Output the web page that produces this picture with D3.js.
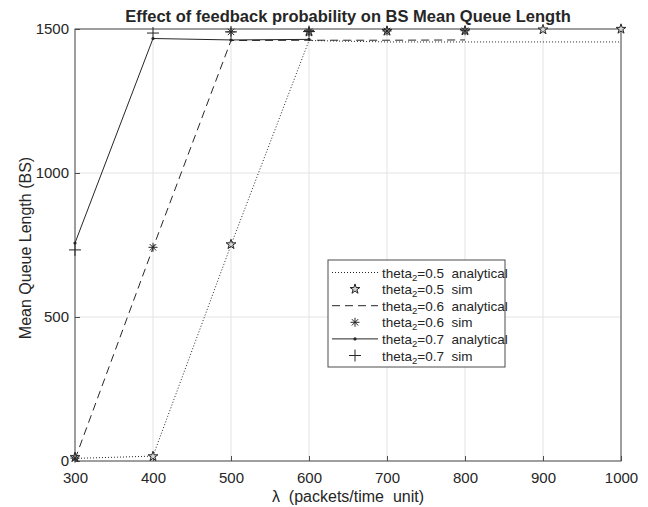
<!DOCTYPE html>
<html>
<head>
<meta charset="utf-8">
<script src="https://cdn.jsdelivr.net/npm/d3@7"></script>
<style>
  body { margin: 0; background: #fff; }
  text { font-family: "Liberation Sans", Arial, Helvetica, sans-serif; fill: #262626; white-space: pre; }
</style>
</head>
<body>
<svg id="chart" width="648" height="507"></svg>
<script>
// x values (lambda, packets/time unit)
const xTicks = [300, 400, 500, 600, 700, 800, 900, 1000];
const yTicks = [0, 500, 1000, 1500];

// theta2 = 0.5
const lambda05 = [300, 400, 500, 600, 700, 800, 900, 1000];
const analytical05 = [9, 17, 750, 1460, 1455, 1455, 1455, 1455];
const sim05 = [13, 16, 752, 1490, 1493, 1494, 1498, 1500];

// theta2 = 0.6
const lambda06 = [300, 400, 500, 600, 700, 800];
const analytical06 = [6, 740, 1460, 1461, 1461, 1462];
const sim06 = [10, 742, 1490, 1491, 1493, 1494];

// theta2 = 0.7
const lambda07 = [300, 400, 500, 600];
const analytical07 = [757, 1467, 1462, 1464];
const sim07 = [733, 1486, 1490, 1491];

const legendLabels = [
    ["0.5", "analytical"], ["0.5", "sim"],
    ["0.6", "analytical"], ["0.6", "sim"],
    ["0.7", "analytical"], ["0.7", "sim"]
];

const svg = d3.select("#chart");
svg.append("rect").attr("width", 648).attr("height", 507).attr("fill", "#fff");

const margin = { left: 75, right: 27, top: 29, bottom: 46 };
const width = 648 - margin.left - margin.right;
const height = 507 - margin.top - margin.bottom;

const x = d3.scaleLinear().domain([300, 1000]).range([0, width]);
const y = d3.scaleLinear().domain([0, 1500]).range([height, 0]);

const g = svg.append("g").attr("transform", `translate(${margin.left},${margin.top})`);

// gridlines
g.append("g")
    .selectAll("line")
    .data(xTicks)
    .enter().append("line")
    .attr("x1", d => x(d)).attr("x2", d => x(d))
    .attr("y1", 0).attr("y2", height)
    .attr("stroke", "#e3e3e3").attr("stroke-width", 1);
g.append("g")
    .selectAll("line")
    .data(yTicks)
    .enter().append("line")
    .attr("x1", 0).attr("x2", width)
    .attr("y1", d => y(d)).attr("y2", d => y(d))
    .attr("stroke", "#e3e3e3").attr("stroke-width", 1);

// axes (ticks inward, MATLAB style)
const xAxis = g.append("g")
    .attr("transform", `translate(0,${height})`)
    .call(d3.axisBottom(x).tickValues(xTicks).tickFormat(d3.format("d"))
        .tickSize(-5).tickPadding(11).tickSizeOuter(0));
const yAxis = g.append("g")
    .call(d3.axisLeft(y).tickValues(yTicks).tickFormat(d3.format("d"))
        .tickSize(-5).tickPadding(6).tickSizeOuter(0));

[xAxis, yAxis].forEach(ax => {
    ax.select(".domain").remove();
    ax.selectAll("line").attr("stroke", "#4d4d4d");
    ax.selectAll("text")
        .style("font-size", "15px")
        .attr("fill", "#262626");
});

// box
g.append("rect")
    .attr("x", 0).attr("y", 0)
    .attr("width", width).attr("height", height)
    .attr("fill", "none")
    .attr("stroke", "#4d4d4d")
    .attr("stroke-width", 1);

// series lines
const lineColor = "#262626";
const line = d3.line().x(d => x(d[0])).y(d => y(d[1]));

function drawLine(xs, ys, dash) {
    g.append("path")
        .datum(xs.map((v, i) => [v, ys[i]]))
        .attr("d", line)
        .attr("fill", "none")
        .attr("stroke", lineColor)
        .attr("stroke-width", 1)
        .attr("stroke-dasharray", dash);
}

drawLine(lambda05, analytical05, "1 2");
drawLine(lambda06, analytical06, "8 5");
drawLine(lambda07, analytical07, null);

// marker paths
const starPath = d3.symbol().type(d3.symbolStar).size(30)();
const asteriskPath = "M0,-4.5V4.5M-4.5,0H4.5M-3.2,-3.2L3.2,3.2M-3.2,3.2L3.2,-3.2";
const plusPath = "M0,-6V6M-6,0H6";

function drawMarkers(xs, ys, path, fill) {
    g.append("g")
        .selectAll("path")
        .data(xs.map((v, i) => [v, ys[i]]))
        .enter().append("path")
        .attr("transform", d => `translate(${x(d[0])},${y(d[1])})`)
        .attr("d", path)
        .attr("fill", fill)
        .attr("stroke", lineColor)
        .attr("stroke-width", 1);
}

// dot markers on theta2=0.7 analytical
g.append("g")
    .selectAll("circle")
    .data(lambda07.map((v, i) => [v, analytical07[i]]))
    .enter().append("circle")
    .attr("cx", d => x(d[0])).attr("cy", d => y(d[1]))
    .attr("r", 1.6).attr("fill", lineColor);

drawMarkers(lambda05, sim05, starPath, "#d4d4d4");
drawMarkers(lambda06, sim06, asteriskPath, "none");
drawMarkers(lambda07, sim07, plusPath, "none");

// title & axis labels
svg.append("text")
    .attr("x", margin.left + width / 2)
    .attr("y", 22)
    .attr("text-anchor", "middle")
    .style("font-size", "16.5px")
    .style("font-weight", "bold")
    .attr("fill", "#000")
    .text("Effect of feedback probability on BS Mean Queue Length");

svg.append("text")
    .attr("x", margin.left + width / 2)
    .attr("y", 502)
    .attr("text-anchor", "middle")
    .style("font-size", "16px")
    .text("\u03bb  (packets/time  unit)");

svg.append("text")
    .attr("transform", `translate(31,${margin.top + height / 2 + 3}) rotate(-90)`)
    .attr("text-anchor", "middle")
    .style("font-size", "16px")
    .text("Mean Queue Length (BS)");

// legend
const legend = svg.append("g").attr("transform", "translate(328,260)");
legend.append("rect")
    .attr("width", 177).attr("height", 107)
    .attr("fill", "#fff")
    .attr("stroke", "#4d4d4d")
    .attr("stroke-width", 1);

const rowH = 16.6;
legendLabels.forEach((lab, i) => {
    const cy = 12.5 + i * rowH;
    const row = legend.append("g").attr("transform", `translate(0,${cy})`);
    if (lab[1] === "analytical") {
        const dash = i === 0 ? "1 2" : i === 2 ? "8 5" : null;
        row.append("line")
            .attr("x1", 4).attr("x2", 50)
            .attr("stroke", lineColor).attr("stroke-width", 1)
            .attr("stroke-dasharray", dash);
        if (i === 4) row.append("circle").attr("cx", 27).attr("r", 1.6).attr("fill", lineColor);
    } else {
        const p = i === 1 ? starPath : i === 3 ? asteriskPath : plusPath;
        row.append("path")
            .attr("transform", "translate(27,0)")
            .attr("d", p)
            .attr("fill", i === 1 ? "#d4d4d4" : "none")
            .attr("stroke", lineColor).attr("stroke-width", 1);
    }
    const t = row.append("text")
        .attr("x", 54).attr("y", 5)
        .style("font-size", "13.5px");
    t.append("tspan").text("theta");
    t.append("tspan").attr("dy", 3).style("font-size", "9.5px").text("2");
    t.append("tspan").attr("dy", -3).text("=" + lab[0] + "  " + lab[1]);
});
</script>
</body>
</html>
